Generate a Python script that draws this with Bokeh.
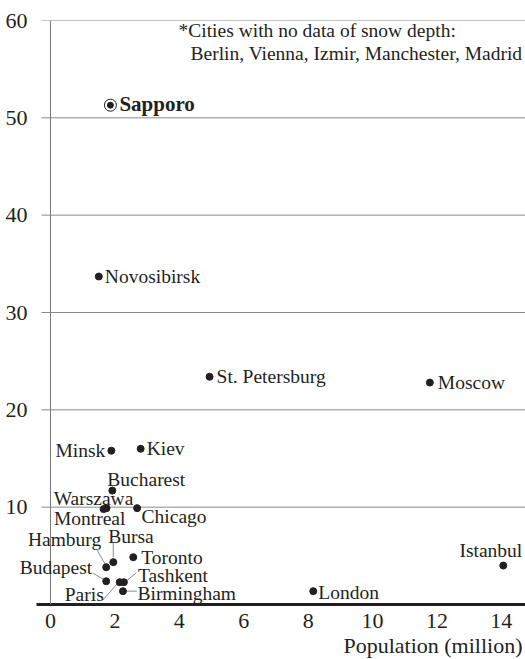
from bokeh.plotting import figure
from bokeh.models import ColumnDataSource, LabelSet, Label, Span, FixedTicker, Title
from bokeh.core.properties import value
from bokeh.embed import file_html
from bokeh.resources import INLINE

# ---------------- data ----------------
cities = ["Sapporo", "Novosibirsk", "St. Petersburg", "Moscow", "Minsk", "Kiev",
          "Bucharest", "Warszawa", "Montreal", "Chicago", "Bursa", "Hamburg",
          "Toronto", "Budapest", "Paris", "Tashkent", "Birmingham", "London", "Istanbul"]
population = [1.86, 1.50, 4.94, 11.78, 1.89, 2.80,
              1.92, 1.74, 1.65, 2.69, 1.95, 1.73,
              2.57, 1.73, 2.15, 2.28, 2.25, 8.16, 14.06]
snow_depth = [51.3, 33.7, 23.4, 22.8, 15.8, 16.0,
              11.7, 9.9, 9.8, 9.9, 4.35, 3.83,
              4.86, 2.39, 2.29, 2.29, 1.37, 1.37, 4.0]
x_ticks = [0, 2, 4, 6, 8, 10, 12, 14]
y_ticks = [10, 20, 30, 40, 50, 60]
x_title = "Population (million)"
note_lines = ["*Cities with no data of snow depth:",
              "Berlin, Vienna, Izmir, Manchester, Madrid"]
highlight = "Sapporo"

# ---------------- label placement (style, screen px, +down) ----------------
label_align = ["left", "left", "left", "left", "right", "left",
               "left", "center", "center", "left", "left", "right",
               "left", "right", "right", "left", "left", "left", "right"]
label_dx = [9, 6, 7, 8, -6, 6,
            -5, -13, -14, 4.5, -5, -5,
            8, -14, -16, 14, 14.5, 5, 19]
label_dy = [-1, 0, 0, 0, 0, 0,
            -11, -10, 9, 8, -26, -28,
            0, -14, 12, -7, 2, 1, -15]
# leader lines: city, start offset (px), end offset (px)
leader_city = ["Hamburg", "Bursa", "Budapest", "Paris", "Tashkent", "Birmingham"]
leader_from = [(-9, -17), (0, -20), (-13, -8), (-17, 18), (12, -9), (3, 0)]
leader_to = [(-1, -3), (0, -5), (-3, -2), (-2, 1), (2, -1), (14, 0)]

FONT = "Liberation Serif"
INK = "#231f20"
GRID = "#8a8a8a"

W, H = 525, 659
ML, MR, MT, MB = 10, 0, 20, 55
X0, X1 = -1.242, 14.75
Y0, Y1 = 0, 60
FW = W - ML - MR
FH = H - MT - MB
sx = FW / (X1 - X0)
sy = FH / (Y1 - Y0)
ORIGIN_PX = ML - X0 * sx          # page x of value 0
BASE_PY = MT + FH                 # page y of value 0


def px2x(px):
    return (px - ORIGIN_PX) / sx


def py2y(py):
    return (BASE_PY - py) / sy


p = figure(width=W, height=H, x_range=(X0, X1), y_range=(Y0, Y1),
           min_border_left=ML, min_border_right=MR, min_border_top=MT,
           min_border_bottom=MB, output_backend="svg", toolbar_location=None,
           tools="")
p.outline_line_color = None
p.background_fill_color = "white"
p.border_fill_color = "white"

p.xgrid.visible = False
p.ygrid.visible = False

ya = p.yaxis[0]
ya.ticker = FixedTicker(ticks=y_ticks)
ya.axis_line_color = None
ya.major_tick_line_color = None
ya.minor_tick_line_color = None
ya.major_label_standoff = -23
ya.major_label_text_font = FONT
ya.major_label_text_font_size = "22px"
ya.major_label_text_color = INK

xa = p.xaxis[0]
xa.ticker = FixedTicker(ticks=x_ticks)
xa.bounds = (px2x(36), X1)
xa.axis_line_color = INK
xa.axis_line_width = 3
xa.major_tick_line_color = None
xa.minor_tick_line_color = None
xa.major_label_standoff = 3
xa.major_label_text_font = FONT
xa.major_label_text_font_size = "22px"
xa.major_label_text_color = INK

p.add_layout(Title(text=x_title, align="right", text_font=FONT,
                   text_font_size="22px", text_font_style="normal",
                   text_color=INK, standoff=0, offset=3), "below")

# horizontal grid lines, starting just left of the y axis
gx0 = px2x(41)
p.segment(x0=[gx0] * len(y_ticks), y0=y_ticks, x1=[X1] * len(y_ticks), y1=y_ticks,
          line_color=GRID, line_width=1)

# vertical axis line at x = 0
p.add_layout(Span(location=0, dimension="height", line_color="#7a7a7a", line_width=1))

# leader lines
idx = {c: i for i, c in enumerate(cities)}
lx0, ly0, lx1, ly1 = [], [], [], []
for c, f, t in zip(leader_city, leader_from, leader_to):
    i = idx[c]
    lx0.append(population[i] + f[0] / sx)
    ly0.append(snow_depth[i] - f[1] / sy)
    lx1.append(population[i] + t[0] / sx)
    ly1.append(snow_depth[i] - t[1] / sy)
p.segment(x0=lx0, y0=ly0, x1=lx1, y1=ly1, line_color=GRID, line_width=1)

# points
others = [i for i, c in enumerate(cities) if c != highlight]
src = ColumnDataSource(dict(x=[population[i] for i in others],
                            y=[snow_depth[i] for i in others]))
p.scatter("x", "y", source=src, size=7, fill_color=INK, line_color=INK)
hi = idx[highlight]
p.scatter([population[hi]], [snow_depth[hi]], size=12, fill_color="white",
          line_color=INK, line_width=1)
p.scatter([population[hi]], [snow_depth[hi]], size=6, fill_color=INK, line_color=INK)

# labels grouped by alignment and weight
groups = {}
for i, c in enumerate(cities):
    style = "bold" if c == highlight else "normal"
    groups.setdefault((label_align[i], style), []).append(i)
for (align, style), ids in groups.items():
    s = ColumnDataSource(dict(x=[population[i] for i in ids],
                              y=[snow_depth[i] for i in ids],
                              t=[cities[i] for i in ids],
                              dx=[label_dx[i] for i in ids],
                              dy=[-label_dy[i] for i in ids]))
    ls = LabelSet(x="x", y="y", text="t", x_offset="dx", y_offset="dy", source=s,
                  text_font=value(FONT),
                  text_font_size="21px" if style == "bold" else "19.5px",
                  text_font_style=style, text_color=INK,
                  text_align=align, text_baseline="middle")
    p.add_layout(ls)

# note
p.add_layout(Label(x=px2x(178), y=py2y(30), text=note_lines[0],
                   text_font=FONT, text_font_size="19.5px", text_color=INK,
                   text_align="left", text_baseline="middle"))
p.add_layout(Label(x=px2x(190), y=py2y(53), text=note_lines[1],
                   text_font=FONT, text_font_size="19.5px", text_color=INK,
                   text_align="left", text_baseline="middle"))

open("out.html", "w").write(file_html(p, INLINE))
